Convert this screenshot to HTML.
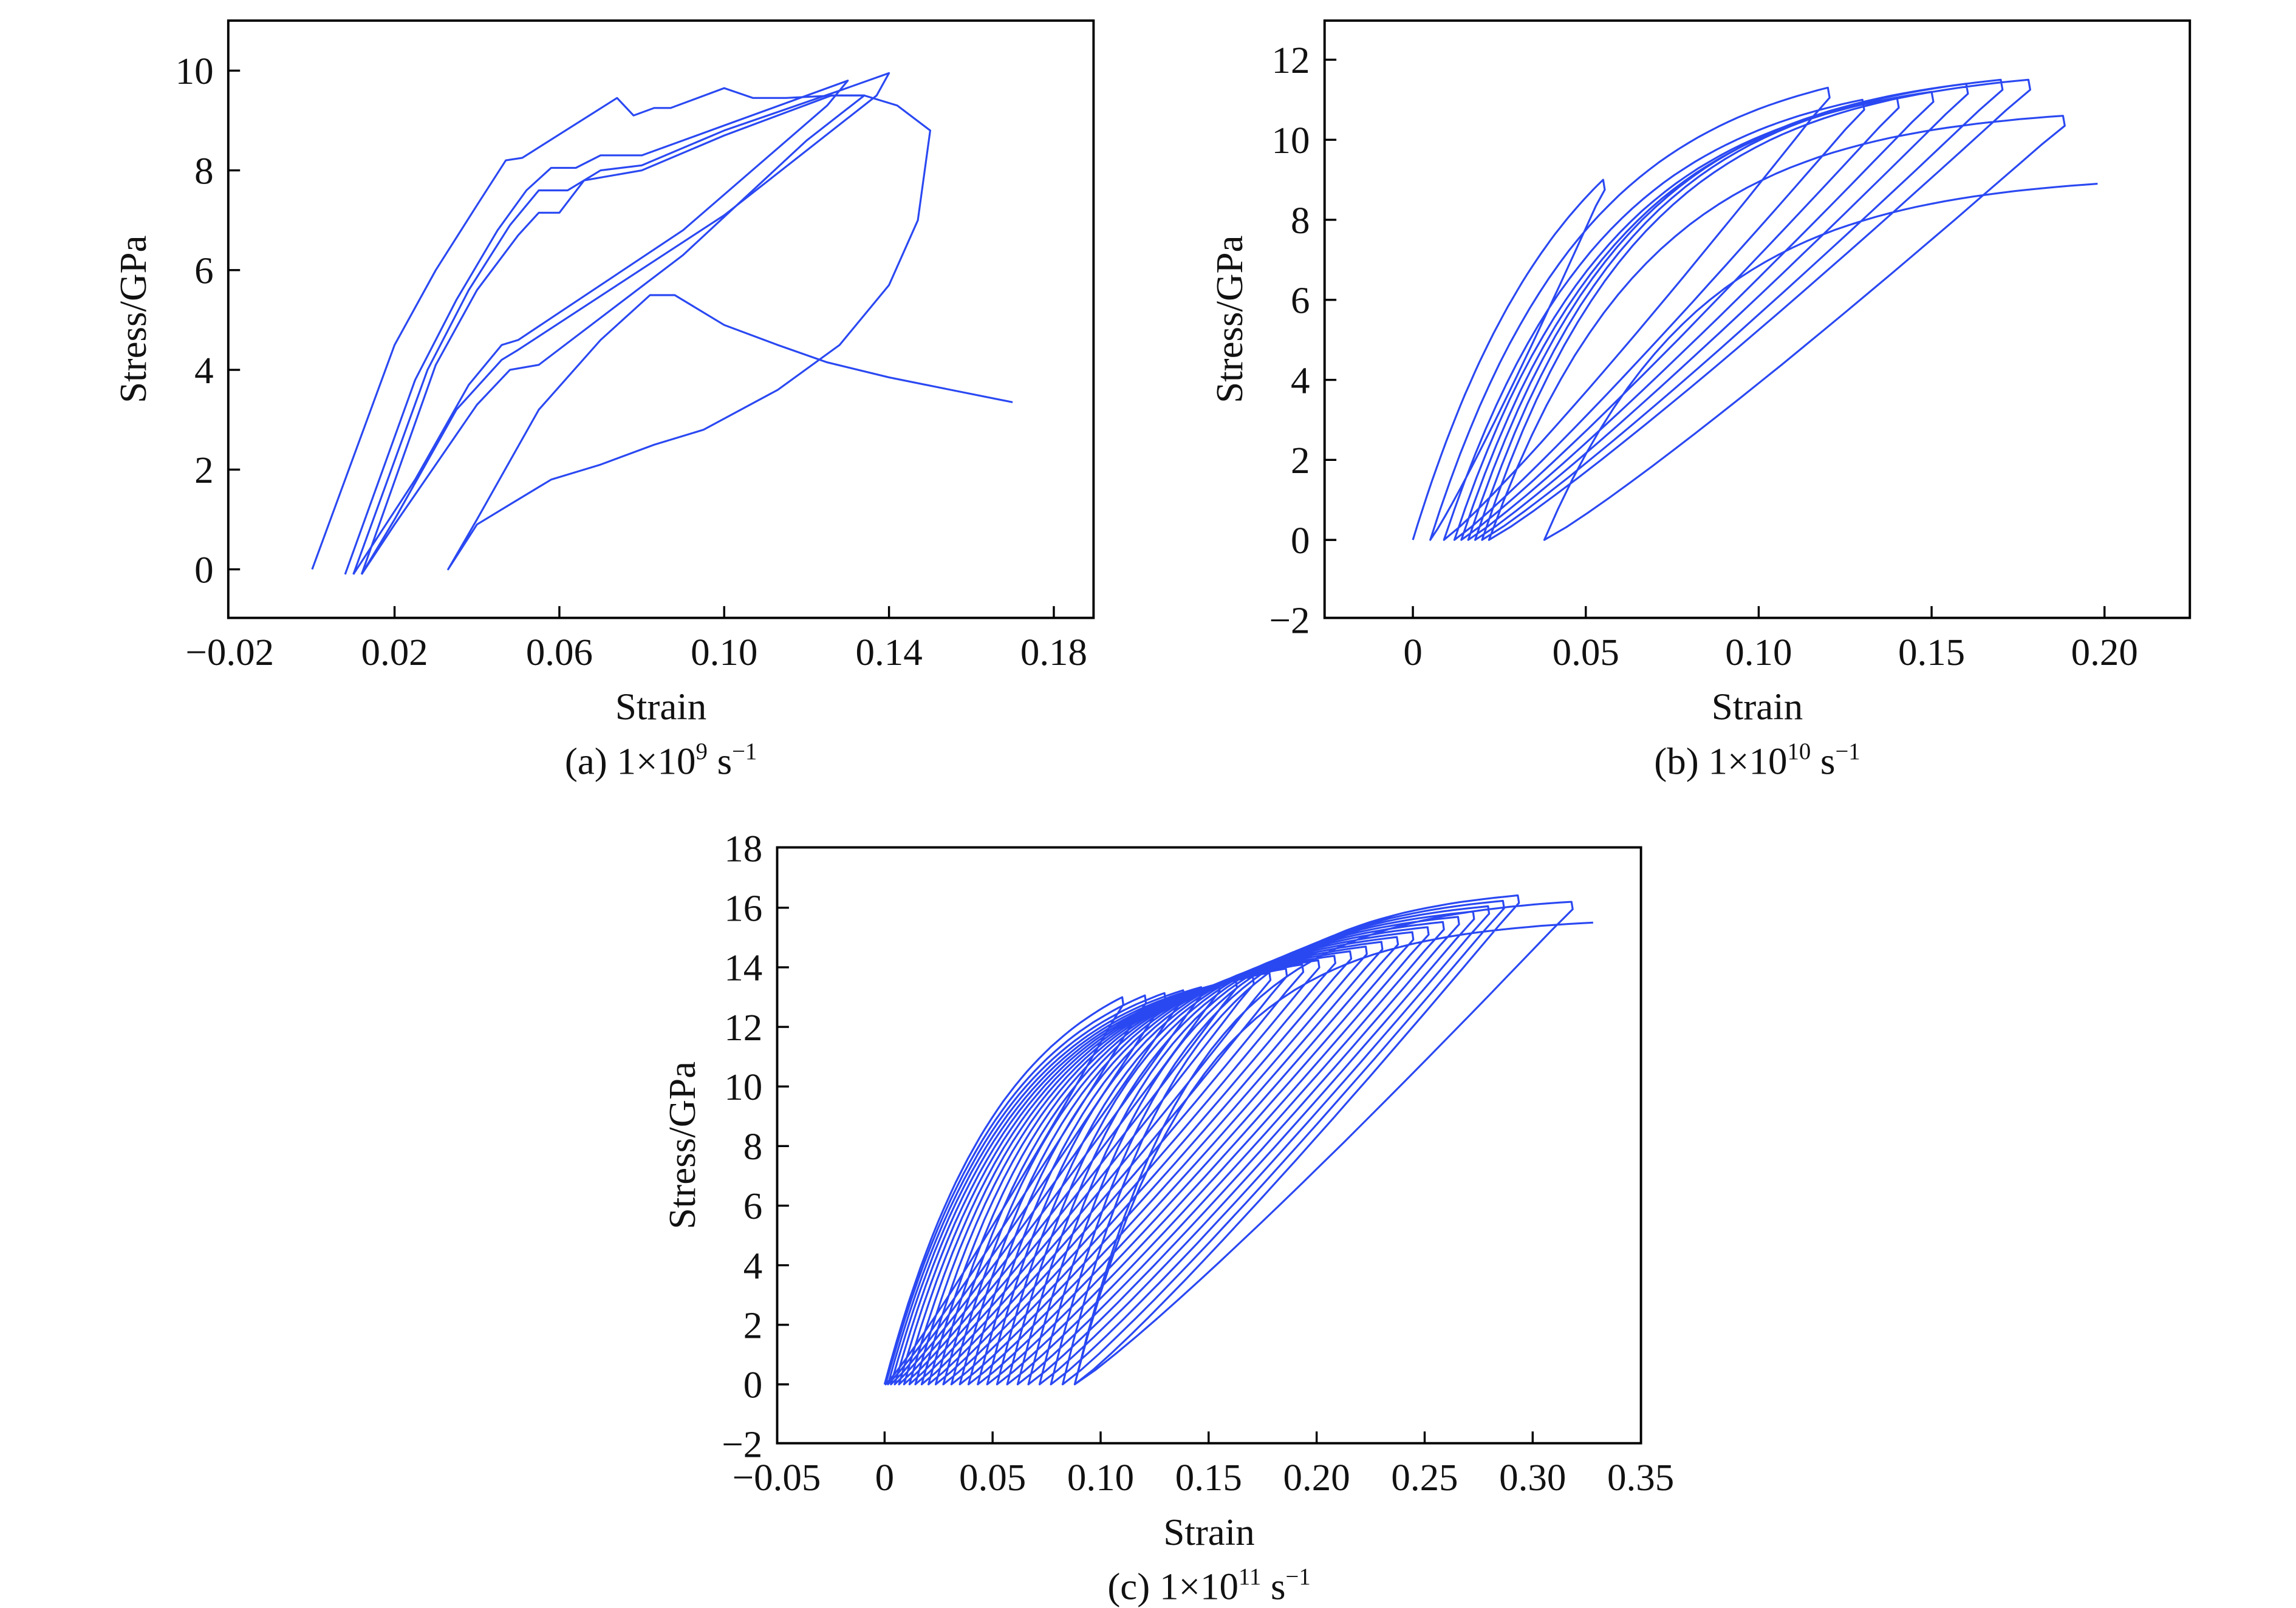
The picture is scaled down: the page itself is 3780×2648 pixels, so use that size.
<!DOCTYPE html>
<html><head><meta charset="utf-8"><style>
html,body{margin:0;padding:0;background:#fff}
svg{display:block}
text{font-family:"Liberation Serif",serif;fill:#111}
</style></head><body>
<svg id="s" width="3780" height="2648" viewBox="0 0 1560 1093" xmlns="http://www.w3.org/2000/svg"></svg>
<script>
const S=document.getElementById('s');let out='';
const FS=26;
function panel(o){
 const X=v=>o.x0px+(v-o.xmin)*o.sx, Y=v=>o.y0px-(v)*o.sy;
 out+=`<rect x="${o.L}" y="${o.T}" width="${o.R-o.L}" height="${o.B-o.T}" fill="none" stroke="#000" stroke-width="1.6"/>`;
 o.xt.forEach(([v,l])=>{const x=X(v);if(x>o.L+2&&x<o.R-2)out+=`<line x1="${x}" y1="${o.B}" x2="${x}" y2="${o.B-8}" stroke="#000" stroke-width="1.4"/>`;
  out+=`<text x="${x}" y="${o.B+32}" font-size="${FS}" text-anchor="middle">${l}</text>`});
 o.yt.forEach(([v,l])=>{const y=Y(v);if(y>o.T+2&&y<o.B-2)out+=`<line x1="${o.L}" y1="${y}" x2="${o.L+8}" y2="${y}" stroke="#000" stroke-width="1.4"/>`;
  out+=`<text x="${o.L-10}" y="${y+9}" font-size="${FS}" text-anchor="end">${l}</text>`});
 const cx=(o.L+o.R)/2;
 out+=`<text x="${cx}" y="${o.B+69}" font-size="${FS}" text-anchor="middle">Strain</text>`;
 out+=`<text x="${cx}" y="${o.B+106}" font-size="${FS}" text-anchor="middle">${o.cap}</text>`;
 const ly=(o.T+o.B)/2;
 out+=`<text transform="translate(${o.L-56},${ly}) rotate(-90)" font-size="${FS}" text-anchor="middle">Stress/GPa</text>`;
 o.curves.forEach(c=>{out+=`<polyline fill="none" stroke="#2a48f2" stroke-width="1.3" stroke-linejoin="round" points="${c.map(p=>X(p[0]).toFixed(1)+','+Y(p[1]).toFixed(1)).join(' ')}"/>`});
}
function load(x0,xp,sp,k,n){const a=[];const d=1-Math.exp(-(xp-x0)/k);for(let i=0;i<=n;i++){const x=x0+(xp-x0)*i/n;a.push([x,sp*(1-Math.exp(-(x-x0)/k))/d]);}return a;}
function unload(xp,sp,x1,n,pw){const a=[[xp+0.0005,sp-0.25]];for(let i=1;i<=n;i++){const t=i/n;a.push([xp-(xp-x1)*t,(sp-0.25)*Math.pow(1-t,pw)]);}return a;}
function cycles(x0s,peaks,k,pw){let c=[];for(let i=0;i<peaks.length;i++){c=c.concat(load(x0s[i],peaks[i][0],peaks[i][1],k,40));if(i<peaks.length-1)c=c.concat(unload(peaks[i][0],peaks[i][1],x0s[i+1],24,pw));}return [c];}
const A=[
[[0,0],[0.02,4.5],[0.03,6.0],[0.04,7.3],[0.047,8.2],[0.051,8.25],[0.074,9.45],[0.078,9.1],[0.083,9.25],[0.087,9.25],[0.1,9.65],[0.107,9.45],[0.115,9.45],[0.127,9.5],[0.134,9.5],[0.142,9.3],[0.150,8.8],[0.147,7],[0.14,5.7],[0.128,4.5],[0.113,3.6],[0.095,2.8],[0.083,2.5],[0.07,2.1],[0.058,1.8],[0.048,1.3],[0.04,0.9],[0.033,0],[0.04,1.0],[0.055,3.2],[0.07,4.6],[0.082,5.5],[0.088,5.5],[0.1,4.9],[0.113,4.5],[0.125,4.15],[0.14,3.85],[0.155,3.6],[0.17,3.35]],
[[0.008,-0.1],[0.025,3.8],[0.035,5.4],[0.045,6.8],[0.052,7.6],[0.058,8.05],[0.064,8.05],[0.07,8.3],[0.08,8.3],[0.1,8.9],[0.13,9.8],[0.125,9.3],[0.09,6.8],[0.05,4.6],[0.046,4.5],[0.038,3.7],[0.025,1.8],[0.010,-0.1]],
[[0.010,-0.1],[0.028,4.0],[0.038,5.6],[0.048,6.9],[0.055,7.6],[0.062,7.6],[0.07,8.0],[0.08,8.1],[0.1,8.8],[0.128,9.6],[0.14,9.95],[0.137,9.5],[0.1,7.1],[0.05,4.4],[0.046,4.2],[0.035,3.2],[0.02,1.0],[0.012,-0.1]],
[[0.012,-0.1],[0.03,4.1],[0.04,5.6],[0.05,6.7],[0.055,7.15],[0.06,7.15],[0.066,7.8],[0.08,8.0],[0.1,8.7],[0.126,9.5],[0.134,9.5],[0.12,8.6],[0.09,6.3],[0.055,4.1],[0.048,4.0],[0.04,3.3],[0.02,0.9],[0.012,-0.1]]];
panel({L:155,R:743,T:14,B:420,x0px:156,xmin:-0.02,sx:2800,y0px:387,sy:33.9,
 xt:[[-0.02,'−0.02'],[0.02,'0.02'],[0.06,'0.06'],[0.10,'0.10'],[0.14,'0.14'],[0.18,'0.18']],
 yt:[[0,'0'],[2,'2'],[4,'4'],[6,'6'],[8,'8'],[10,'10']],cap:'(a) 1×10<tspan dy="-10" font-size="16">9</tspan><tspan dy="10"> s</tspan><tspan dy="-10" font-size="16">−1</tspan>',curves:A});
const bp=[[0.055,9.0],[0.12,11.3],[0.13,11.0],[0.14,11.05],[0.15,11.2],[0.16,11.4],[0.17,11.5],[0.178,11.5],[0.188,10.6],[0.198,8.9]];
const bxs=[0,0.005,0.009,0.012,0.014,0.016,0.018,0.020,0.022,0.038];
panel({L:900,R:1488,T:14,B:420,x0px:960,xmin:0,sx:2350,y0px:367,sy:27.2,
 xt:[[0,'0'],[0.05,'0.05'],[0.10,'0.10'],[0.15,'0.15'],[0.20,'0.20']],
 yt:[[-2,'−2'],[0,'0'],[2,'2'],[4,'4'],[6,'6'],[8,'8'],[10,'10'],[12,'12']],cap:'(b) 1×10<tspan dy="-10" font-size="16">10</tspan><tspan dy="10"> s</tspan><tspan dy="-10" font-size="16">−1</tspan>',curves:cycles(bxs,bp,0.045,1.1)});
const n=26,cx0=[],cp=[];
for(let i=0;i<n;i++){const t=i/(n-1);cx0.push(0.088*Math.pow(t,1.6));
 const xp=0.11+0.19*Math.pow(t,0.9);cp.push([xp,13+3.6*Math.pow(t,1.3)]);}
cp[n-1]=[0.318,16.2];cp.push([0.328,15.5]);cx0.push(0.088);
panel({L:528,R:1115,T:576,B:981,x0px:601,xmin:0,sx:1468,y0px:941,sy:20.25,
 xt:[[-0.05,'−0.05'],[0,'0'],[0.05,'0.05'],[0.10,'0.10'],[0.15,'0.15'],[0.20,'0.20'],[0.25,'0.25'],[0.30,'0.30'],[0.35,'0.35']],
 yt:[[-2,'−2'],[0,'0'],[2,'2'],[4,'4'],[6,'6'],[8,'8'],[10,'10'],[12,'12'],[14,'14'],[16,'16'],[18,'18']],cap:'(c) 1×10<tspan dy="-10" font-size="16">11</tspan><tspan dy="10"> s</tspan><tspan dy="-10" font-size="16">−1</tspan>',curves:cycles(cx0,cp,0.055,1.1)});
S.innerHTML=out;
</script>
</body></html>
